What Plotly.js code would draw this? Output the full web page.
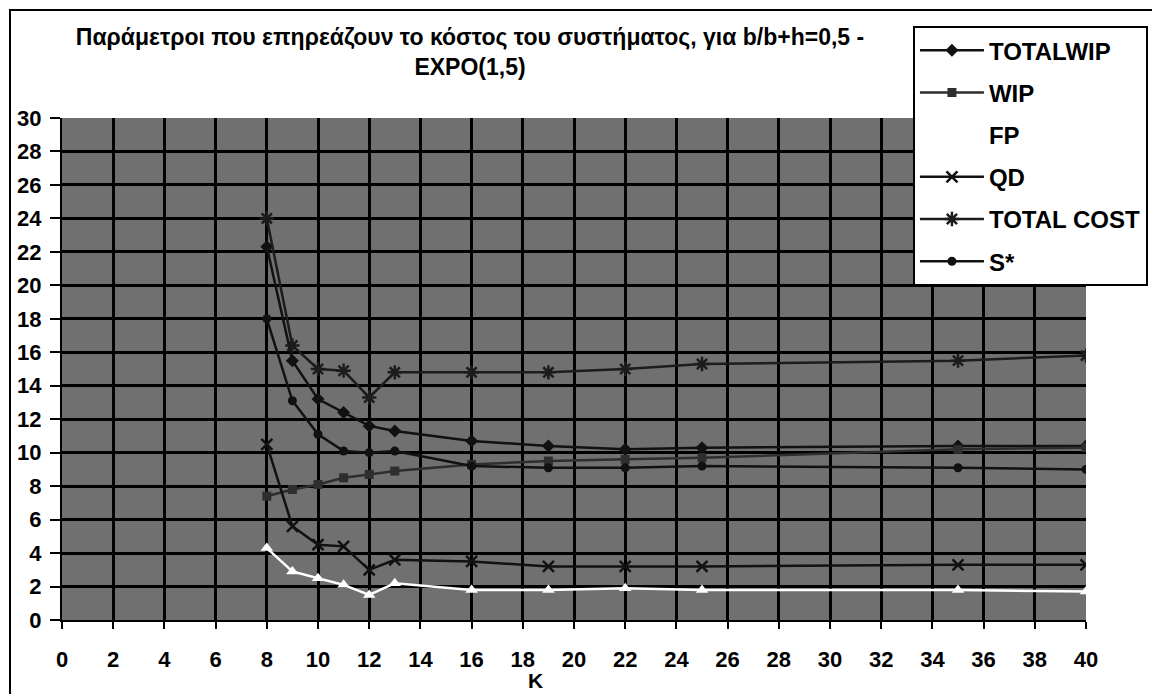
<!DOCTYPE html>
<html>
<head>
<meta charset="utf-8">
<script src="https://cdn.plot.ly/plotly-3.0.1.min.js"></script>
<style>
html,body{margin:0;padding:0;background:#fff;}
#wrap{position:relative;width:1152px;height:694px;overflow:hidden;}
#frame{position:absolute;left:9px;top:9px;width:1200px;height:700px;border-left:2px solid #000;border-top:2px solid #000;}
#chart{position:absolute;left:0;top:0;width:1152px;height:694px;}
</style>
</head>
<body>
<div id="wrap"><div id="frame"></div><div id="chart"></div></div>
<script>
const K = [8, 9, 10, 11, 12, 13, 16, 19, 22, 25, 35, 40];
const totalWip = [22.3, 15.5, 13.2, 12.4, 11.6, 11.3, 10.7, 10.4, 10.2, 10.3, 10.4, 10.4];
const wip = [7.4, 7.8, 8.1, 8.5, 8.7, 8.9, 9.3, 9.5, 9.6, 9.7, 10.2, 10.3];
const fp = [4.3, 2.9, 2.5, 2.1, 1.5, 2.2, 1.8, 1.8, 1.9, 1.8, 1.8, 1.7];
const qd = [10.5, 5.6, 4.5, 4.4, 3.0, 3.6, 3.5, 3.2, 3.2, 3.2, 3.3, 3.3];
const totalCost = [24.0, 16.4, 15.0, 14.9, 13.3, 14.8, 14.8, 14.8, 15.0, 15.3, 15.5, 15.8];
const sStar = [18.0, 13.1, 11.1, 10.1, 10.0, 10.1, 9.2, 9.1, 9.1, 9.2, 9.1, 9.0];
const seriesNames = ["TOTALWIP", "WIP", "FP", "QD", "TOTAL COST", "S*"];
const titleText = "Παράμετροι που επηρεάζουν το κόστος του συστήματος, για b/b+h=0,5 -<br>EXPO(1,5)";
const xTitle = "K";

const FONT = "Liberation Sans, Arial, sans-serif";
function tr(y, name, color, symbol, msize, mline) {
  return {
    x: K, y: y, name: name, type: "scatter", mode: "lines+markers",
    legendgroup: name,
    line: {color: color, width: 2.5},
    marker: {symbol: symbol, size: msize, color: color, line: mline || {width: 0}}
  };
}
const data = [
  tr(totalWip, seriesNames[0], "#111111", "diamond", 10),
  tr(wip, seriesNames[1], "#2e2e2e", "square", 9),
  tr(fp, seriesNames[2], "#ffffff", "triangle-up", 11),
  tr(qd, seriesNames[3], "#111111", "x-thin-open", 11, {width: 2.5, color: "#111111"}),
  tr(totalCost, seriesNames[4], "#1c1c1c", "asterisk-open", 12, {width: 2.5, color: "#1c1c1c"}),
  tr(sStar, seriesNames[5], "#111111", "circle", 9)
];
const layout = {
  width: 1152, height: 694,
  margin: {l: 62, r: 66, t: 118, b: 74, autoexpand: false},
  paper_bgcolor: "rgba(0,0,0,0)",
  plot_bgcolor: "#707070",
  font: {family: FONT, color: "#000", size: 17},
  title: {
    text: "<b>" + titleText + "</b>",
    font: {family: FONT, size: 23, color: "#000"},
    xref: "container", x: 0.408, xanchor: "center",
    yref: "container", y: 0.935, yanchor: "top"
  },
  xaxis: {
    range: [0, 40], dtick: 2, tick0: 0,
    showgrid: true, gridcolor: "#000", gridwidth: 3,
    zeroline: false, showline: true, linecolor: "#000", linewidth: 2,
    ticks: "outside", ticklen: 7, tickwidth: 2, tickcolor: "#000",
    tickfont: {family: FONT, size: 22, color: "#000", weight: "bold"},
    ticklabelstandoff: 12
  },
  yaxis: {
    range: [0, 30], dtick: 2, tick0: 0,
    showgrid: true, gridcolor: "#000", gridwidth: 3,
    zeroline: false, showline: true, linecolor: "#000", linewidth: 2,
    ticks: "outside", ticklen: 10, tickwidth: 2, tickcolor: "#000",
    tickfont: {family: FONT, size: 22, color: "#000", weight: "bold"},
    ticklabelstandoff: 4
  },
  annotations: [{
    text: "<b>" + xTitle + "</b>", xref: "x", x: 18.5, yref: "paper", y: -0.121,
    showarrow: false, font: {family: FONT, size: 21, color: "#000"},
    xanchor: "center", yanchor: "middle"
  }],
  showlegend: true,
  legend: {
    x: 0.831, xanchor: "left", y: 1.183, yanchor: "top",
    bgcolor: "#ffffff", bordercolor: "#000", borderwidth: 2,
    font: {family: FONT, size: 24, color: "#000", weight: "bold"},
    traceorder: "grouped", tracegroupgap: 8, itemwidth: 64
  }
};
Plotly.newPlot("chart", data, layout, {displayModeBar: false, staticPlot: true});
</script>
</body>
</html>
